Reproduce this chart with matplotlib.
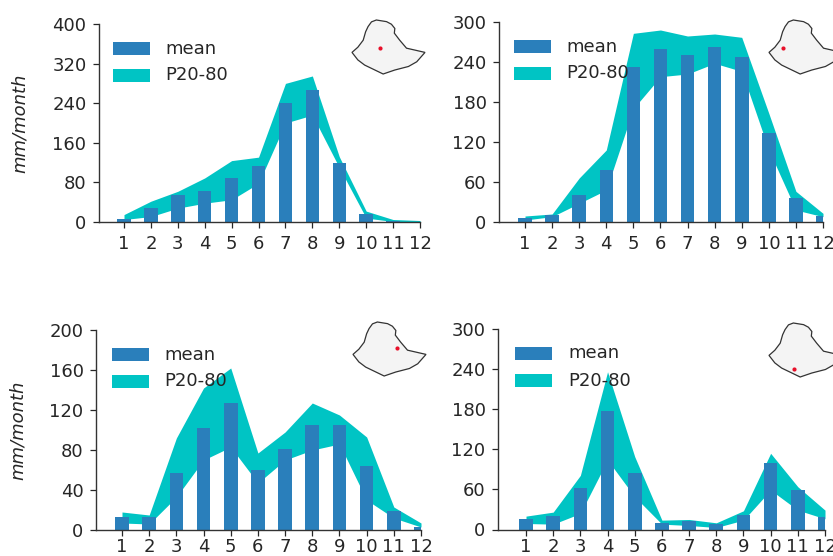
import matplotlib
matplotlib.use("Agg")
import matplotlib.pyplot as plt

months = list(range(1, 13))
month_labels = [str(m) for m in months]

mean_a = [6, 28, 54, 63, 88, 113, 241, 266, 119, 17, 2, 1]
low_a = [5, 11, 28, 38, 45, 78, 200, 216, 110, 8, 1, 0]
high_a = [15, 42, 62, 89, 124, 131, 280, 295, 132, 22, 5, 3]

mean_b = [6, 11, 41, 78, 232, 259, 250, 262, 248, 133, 36, 9]
low_b = [3, 8, 28, 48, 170, 218, 222, 238, 226, 108, 18, 8]
high_b = [9, 12, 66, 108, 283, 288, 279, 282, 277, 163, 46, 13]

mean_c = [13, 13, 57, 102, 127, 60, 81, 105, 105, 64, 19, 3]
low_c = [7, 6, 33, 70, 83, 47, 70, 80, 86, 30, 12, 3]
high_c = [18, 15, 92, 142, 162, 77, 98, 127, 115, 93, 23, 7]

mean_d = [15, 20, 62, 178, 84, 10, 13, 8, 22, 99, 59, 19]
low_d = [9, 8, 24, 104, 49, 8, 6, 3, 14, 59, 29, 16]
high_d = [20, 26, 81, 236, 109, 14, 15, 10, 28, 114, 64, 29]

yticks_a = [0, 80, 160, 240, 320, 400]
yticks_b = [0, 60, 120, 180, 240, 300]
yticks_c = [0, 40, 80, 120, 160, 200]
yticks_d = [0, 60, 120, 180, 240, 300]

border_lon = [33.0, 34.2, 35.3, 35.8, 36.3, 37.0, 38.0, 40.1, 41.1, 41.8, 41.7, 42.8, 44.2,
              48.0, 46.3, 44.6, 41.8, 39.4, 37.7, 35.6, 34.2, 33.0]
border_lat = [7.9, 9.0, 10.5, 12.3, 13.4, 14.4, 14.8, 14.45, 13.9, 13.0, 12.0, 10.5, 8.8,
              7.9, 5.9, 4.9, 4.15, 3.3, 4.15, 5.2, 6.3, 7.9]
site_lon = [38.75, 35.9, 42.0, 38.1]
site_lat = [8.84, 8.84, 9.26, 5.0]

FW, FH = 833, 556
# left, right, top, bottom of each axes, x of tick 1, x of tick 12
frames = [(99, 420, 24, 222, 124, 420), (499, 823, 22, 222, 525, 823),
          (96, 421, 330, 530, 122, 421), (498, 825, 329, 529.5, 526, 825)]
maps = [(352, 20), (769, 20), (353, 322), (769, 323)]
legs = [(113, 42), (514, 40), (112, 348), (515, 347)]
text_x = [165, 566, 164, 568]
x_pads = [5, 5, 1.5, 1.5]
ylab_pos = [(20, 123), (18, 430)]
panels = [(mean_a, low_a, high_a, yticks_a), (mean_b, low_b, high_b, yticks_b),
          (mean_c, low_c, high_c, yticks_c), (mean_d, low_d, high_d, yticks_d)]

fig = plt.figure(figsize=(FW / 100, FH / 100), dpi=100)
TXT = "#262626"
for i, (mean, low, high, yt) in enumerate(panels):
    l, r, t, b, x1, x12 = frames[i]
    ax = fig.add_axes([l / FW, 1 - b / FH, (r - l) / FW, (b - t) / FH])
    step = (x12 - x1) / 11
    ax.fill_between(months, low, high, color="#00c4c4", lw=0, zorder=1)
    ax.bar(months, mean, width=0.5, color="#2a7fbb", zorder=2)
    ax.set_xlim(1 - (x1 - l) / step, 1 + (r - x1) / step)
    ax.set_ylim(yt[0], yt[-1])
    ax.set_xticks(months, month_labels)
    ax.set_yticks(yt)
    ax.tick_params(labelsize=13, colors=TXT, length=4.5, width=0.9, pad=4.5)
    ax.tick_params(axis="x", pad=x_pads[i])
    for s in ("top", "right"):
        ax.spines[s].set_visible(False)
    for s in ("left", "bottom"):
        ax.spines[s].set_color("#333333")
        ax.spines[s].set_linewidth(1.0)
    if i % 2 == 0:
        px, py = ylab_pos[i // 2]
        fig.text(px / FW, 1 - py / FH, "mm/month", rotation=90,
                 style="italic", fontsize=13, color=TXT, ha="center", va="center")
    # legend
    lx, ly = legs[i]
    hnd = fig.add_axes([0, 0, 1, 1], facecolor="none")
    hnd.set_xlim(0, FW)
    hnd.set_ylim(FH, 0)
    hnd.axis("off")
    hnd.add_patch(plt.Rectangle((lx, ly), 37, 13, color="#2a7fbb", lw=0))
    hnd.add_patch(plt.Rectangle((lx, ly + 27), 37, 13, color="#00c4c4", lw=0))
    hnd.text(text_x[i], ly + 6.5, "mean", fontsize=13, color=TXT, va="center")
    hnd.text(text_x[i], ly + 33.5, "P20-80", fontsize=13, color=TXT, va="center")
    # locator map
    mx, my = maps[i]
    w, h = 73, 54
    m = fig.add_axes([mx / FW, 1 - (my + h) / FH, w / FW, h / FH])
    m.fill(border_lon, border_lat, facecolor="#f4f4f4", edgecolor="#333333", lw=0.9, clip_on=False)
    m.scatter([site_lon[i]], [site_lat[i]], s=9, color="#e8102a", lw=0, zorder=3)
    m.set_xlim(33, 48)
    m.set_ylim(3.3, 14.8)
    m.axis("off")
fig.savefig("out.png", dpi=100)
